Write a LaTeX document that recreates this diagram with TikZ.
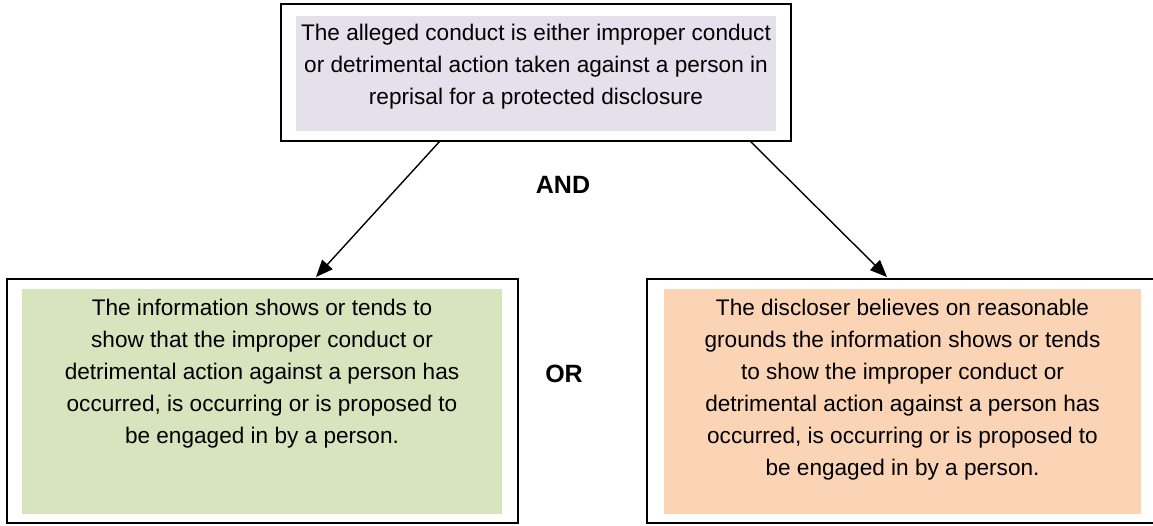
\documentclass[tikz,border=0pt]{standalone}
\usepackage{fontspec}
\setmainfont{Liberation Sans}
\usetikzlibrary{arrows.meta}
\definecolor{purp}{HTML}{E5E0EC}
\definecolor{grn}{HTML}{D7E4BD}
\definecolor{orng}{HTML}{FAD4B5}
\begin{document}
\begin{tikzpicture}[x=1pt,y=-1pt,
  frame/.style={draw=black, line width=2pt, fill=white, inner sep=0pt, outer sep=0pt, anchor=north west},
  fillbox/.style={fill=#1, draw=none, inner sep=0pt, outer sep=0pt, anchor=north west},
  txt/.style={inner sep=0pt, anchor=north, align=center, font=\fontsize{22.6}{32}\selectfont},
  lbl/.style={inner sep=0pt, font=\fontsize{25}{30}\selectfont\bfseries},
  arrow/.style={line width=1.4pt, -{Triangle[length=17pt,width=14pt]}}]
\path[use as bounding box] (0,0) rectangle (1153,525);
\clip (0,0) rectangle (1153,525);
\fill[white] (0,0) rectangle (1153,525);
% top
\node[frame, minimum width=510pt, minimum height=137pt] (topbox) at (281,4) {};
\node[fillbox=purp, minimum width=480pt, minimum height=115pt] (topfill) at (296,16) {};
\node[txt] (toptext) at (536,24.4) {The alleged conduct is either improper conduct\\or detrimental action taken against a person in\\reprisal for a protected disclosure};
% left
\node[frame, minimum width=511pt, minimum height=244pt] (leftbox) at (7,279) {};
\node[fillbox=grn, minimum width=480pt, minimum height=225pt] (leftfill) at (22,289) {};
\node[txt] (lefttext) at (262,299.2) {The information shows or tends to\\show that the improper conduct or\\detrimental action against a person has\\occurred, is occurring or is proposed to\\be engaged in by a person.};
% right
\node[frame, minimum width=520pt, minimum height=244pt] (rightbox) at (647,279) {};
\node[fillbox=orng, minimum width=477pt, minimum height=225pt] (rightfill) at (664,289) {};
\node[txt] (righttext) at (902.5,299.2) {The discloser believes on reasonable\\grounds the information shows or tends\\to show the improper conduct or\\detrimental action against a person has\\occurred, is occurring or is proposed to\\be engaged in by a person.};
% labels
\node[lbl] (andlbl) at (563,185) {AND};
\node[lbl] (orlbl) at (564,374) {OR};
% arrows
\draw[arrow] ([xshift=159pt]topbox.south west) -- ([xshift=309pt,yshift=2pt]leftbox.north west);
\draw[arrow] ([xshift=469pt]topbox.south west) -- ([xshift=240pt,yshift=2pt]rightbox.north west);
\end{tikzpicture}
\end{document}
